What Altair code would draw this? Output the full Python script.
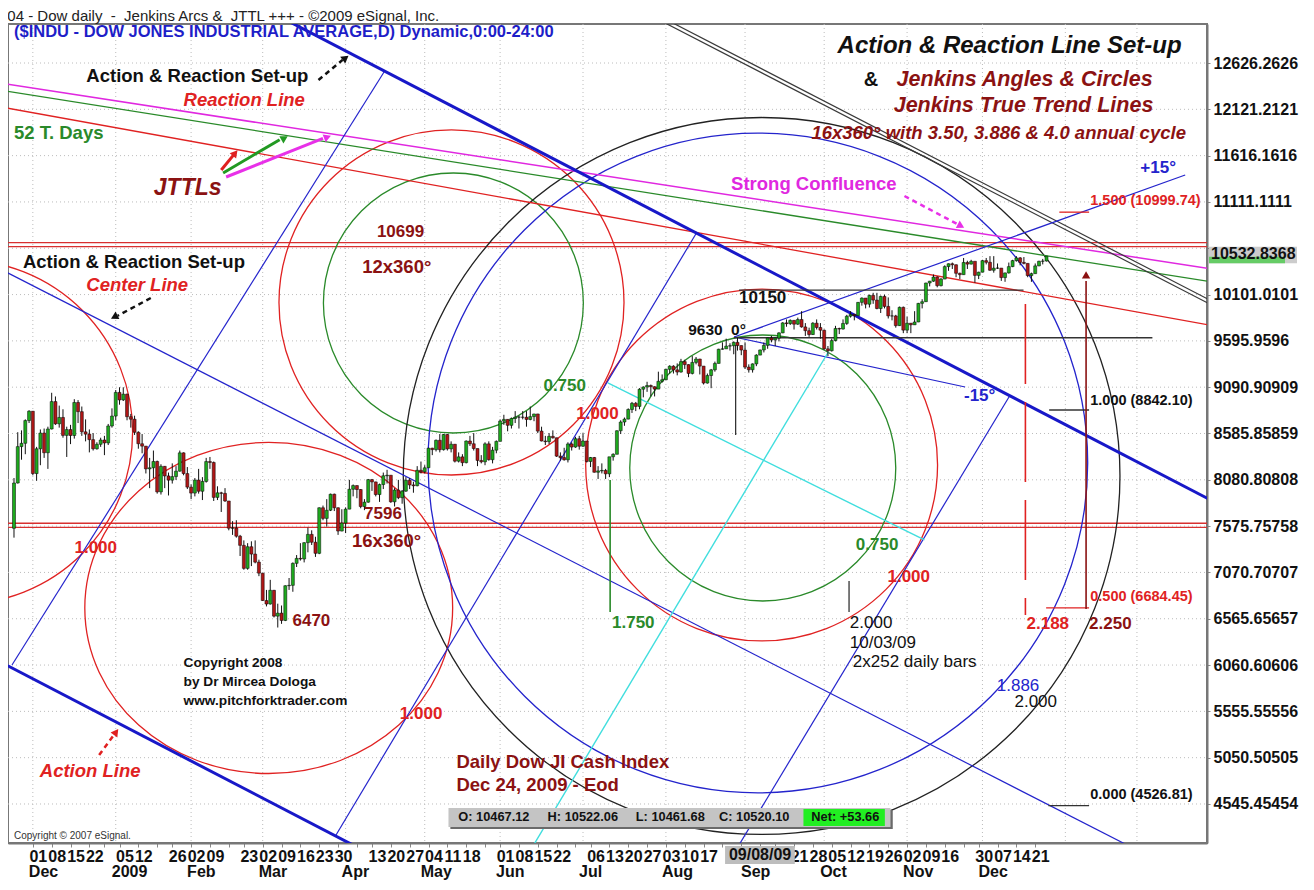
import altair as alt
import pandas as pd

FONT = "Liberation Sans"

# ---------------- price data (Dow Jones daily, Nov 21 2008 .. Dec 24 2009) ----------------
HOLIDAYS = ["2008-11-27", "2008-12-25", "2009-01-01", "2009-01-19", "2009-02-16",
            "2009-04-10", "2009-05-25", "2009-07-03", "2009-09-07", "2009-11-26"]

OPEN = [
    7552, 8046, 8443, 8479, 8727,
    8829, 8149, 8419, 8591, 8376, 8635, 8934, 8691, 8761, 8565, 8629, 8564, 8924, 8824, 8604, 8579, 8519, 8419, 8468, 8515, 8483, 8668,
    8776, 9034, 8952, 9015, 8769, 8742, 8599, 8474, 8448, 8200, 8212, 8281, 7949, 8228, 8123, 8077, 8116, 8175, 8375, 8149,
    8001, 7936, 8078, 7956, 8063, 8280, 8270, 7889, 7939, 7933, 7850, 7553, 7555, 7466, 7366, 7115, 7351, 7271, 7183,
    7063, 6764, 6726, 6876, 6594, 6627, 6547, 6926, 6930, 7170, 7224, 7217, 7395, 7486, 7400, 7279, 7776, 7660, 7749, 7924, 7776, 7522,
    7609, 7761, 7978, 8018, 7975, 7789, 7837, 8083, 8058, 7920, 8029, 8125, 8131, 7841, 7969, 7886, 7957, 8076, 8025, 8016, 8185,
    8168, 8212, 8426, 8410, 8512, 8409, 8575, 8418, 8469, 8284, 8331, 8268, 8504, 8474, 8422, 8292, 8277, 8473, 8300, 8404,
    8500, 8721, 8740, 8675, 8750, 8764, 8764, 8763, 8739, 8770, 8799, 8612, 8504, 8497, 8555, 8539, 8339, 8323, 8299, 8472, 8438, 8529,
    8447, 8504, 8281, 8324, 8163, 8178, 8183, 8146, 8332, 8359, 8616, 8711, 8743, 8848, 8915, 8881, 9069, 9093, 9109, 9096, 9070, 9155,
    9172, 9286, 9320, 9280, 9256, 9370, 9337, 9241, 9361, 9398, 9321, 9136, 9218, 9280, 9350, 9505, 9509, 9539, 9543, 9580, 9545,
    9496, 9310, 9281, 9345, 9441, 9497, 9547, 9627, 9606, 9626, 9683, 9792, 9784, 9820, 9778, 9829, 9748, 9707, 9665, 9789, 9742,
    9712, 9509, 9488, 9599, 9731, 9725, 9786, 9865, 9885, 9871, 10016, 10063, 9996, 10092, 10041, 9949, 10081, 9972, 9868, 9868, 9762, 9962,
    9713, 9789, 9771, 9802, 10005, 10023, 10227, 10247, 10292, 10198, 10270, 10406, 10437, 10426, 10333, 10318, 10451, 10433, 10464, 10310,
    10345, 10471, 10453, 10366, 10389, 10390, 10286, 10337, 10406, 10471, 10501, 10452, 10441, 10308, 10329, 10414, 10464, 10467.12,
]
HIGH = [
    8100, 8600, 8620, 8740, 8840,
    8830, 8440, 8630, 8640, 8660, 9030, 8990, 8890, 8850, 8660, 8680, 8960, 8950, 8880, 8740, 8630, 8590, 8490, 8540, 8560, 8690, 8860,
    9060, 9090, 9090, 9020, 8800, 8780, 8610, 8580, 8450, 8320, 8400, 8290, 8250, 8230, 8160, 8260, 8230, 8400, 8380, 8220,
    8030, 8100, 8200, 8110, 8320, 8330, 8280, 8010, 7950, 7990, 7850, 7630, 7640, 7480, 7420, 7390, 7410, 7420, 7210,
    7063, 6880, 6990, 6880, 6730, 6710, 6930, 7010, 7180, 7260, 7390, 7400, 7560, 7530, 7460, 7780, 7800, 7870, 7930, 7930, 7780, 7760,
    7780, 8080, 8030, 8020, 7980, 7870, 8090, 8090, 8060, 8040, 8160, 8190, 8130, 7990, 8080, 7970, 8110, 8100, 8060, 8230, 8280,
    8240, 8430, 8430, 8520, 8580, 8580, 8580, 8500, 8470, 8380, 8360, 8510, 8560, 8590, 8420, 8350, 8490, 8500, 8440, 8510,
    8740, 8790, 8740, 8760, 8830, 8780, 8830, 8830, 8880, 8800, 8800, 8660, 8560, 8590, 8620, 8540, 8380, 8430, 8490, 8490, 8550, 8560,
    8590, 8500, 8330, 8330, 8230, 8260, 8200, 8330, 8370, 8620, 8730, 8760, 8860, 8930, 8930, 9080, 9100, 9150, 9120, 9100, 9260, 9230,
    9290, 9330, 9330, 9350, 9400, 9390, 9340, 9430, 9420, 9400, 9320, 9240, 9290, 9370, 9510, 9580, 9620, 9570, 9590, 9630, 9545,
    9580, 9340, 9350, 9450, 9500, 9580, 9630, 9650, 9630, 9690, 9800, 9830, 9830, 9820, 9850, 9920, 9790, 9740, 9800, 9830, 9790,
    9720, 9540, 9620, 9760, 9740, 9830, 9880, 9920, 9890, 10020, 10070, 10060, 10100, 10120, 10120, 10090, 10100, 10070, 9930, 9880, 9970, 9970,
    9860, 9790, 9920, 10010, 10050, 10230, 10250, 10320, 10300, 10280, 10420, 10440, 10450, 10430, 10340, 10500, 10470, 10480, 10460, 10350,
    10480, 10500, 10520, 10520, 10440, 10390, 10340, 10450, 10480, 10520, 10510, 10510, 10440, 10340, 10440, 10470, 10490, 10522.06,
]
LOW = [
    7450, 8040, 8300, 8360, 8700,
    8130, 8070, 8240, 8320, 8200, 8630, 8680, 8650, 8540, 8330, 8470, 8530, 8700, 8560, 8500, 8380, 8400, 8410, 8440, 8350, 8460, 8650,
    8730, 8900, 8940, 8730, 8650, 8570, 8420, 8370, 8150, 7990, 8100, 7930, 7920, 7990, 7910, 8040, 8080, 8170, 8130, 7980,
    7870, 7900, 7930, 7860, 8050, 8200, 7850, 7860, 7730, 7840, 7530, 7480, 7450, 7250, 7100, 7100, 7140, 7170, 7030,
    6760, 6700, 6720, 6580, 6470, 6510, 6540, 6880, 6860, 7130, 7200, 7180, 7290, 7370, 7240, 7270, 7640, 7570, 7740, 7740, 7480, 7520,
    7500, 7760, 7900, 7880, 7770, 7750, 7830, 7960, 7900, 7840, 7980, 8040, 7830, 7790, 7870, 7820, 7950, 7980, 7940, 8010, 8150,
    8150, 8210, 8350, 8390, 8380, 8400, 8400, 8380, 8270, 8270, 8230, 8260, 8450, 8400, 8230, 8260, 8240, 8290, 8260, 8370,
    8500, 8680, 8610, 8640, 8700, 8640, 8740, 8660, 8730, 8720, 8590, 8500, 8460, 8470, 8530, 8330, 8290, 8290, 8270, 8400, 8430, 8410,
    8440, 8270, 8220, 8160, 8090, 8150, 8090, 8110, 8290, 8360, 8580, 8670, 8740, 8810, 8830, 8850, 8980, 9040, 8990, 8990, 9070, 9140,
    9170, 9240, 9240, 9220, 9250, 9290, 9200, 9230, 9340, 9230, 9120, 9130, 9080, 9260, 9350, 9500, 9510, 9490, 9450, 9490, 9440,
    9290, 9250, 9250, 9320, 9440, 9470, 9510, 9580, 9540, 9590, 9680, 9750, 9770, 9720, 9770, 9740, 9650, 9640, 9660, 9720, 9620,
    9500, 9430, 9480, 9590, 9670, 9720, 9770, 9850, 9820, 9870, 9980, 9950, 9960, 10000, 9940, 9900, 9950, 9840, 9820, 9740, 9760, 9680,
    9680, 9680, 9770, 9800, 9950, 10020, 10190, 10240, 10180, 10190, 10270, 10360, 10380, 10290, 10270, 10318, 10380, 10430, 10230, 10270,
    10345, 10430, 10360, 10340, 10380, 10250, 10240, 10330, 10400, 10460, 10420, 10430, 10290, 10240, 10330, 10410, 10430, 10461.68,
]
CLOSE = [
    8046, 8443, 8479, 8727, 8829,
    8149, 8419, 8591, 8376, 8635, 8934, 8691, 8761, 8565, 8629, 8564, 8924, 8824, 8604, 8579, 8519, 8419, 8468, 8515, 8483, 8668, 8776,
    9034, 8952, 9015, 8769, 8742, 8599, 8474, 8448, 8200, 8212, 8281, 7949, 8228, 8123, 8077, 8116, 8175, 8375, 8149, 8001,
    7936, 8078, 7956, 8063, 8280, 8270, 7889, 7939, 7933, 7850, 7553, 7555, 7466, 7366, 7115, 7351, 7271, 7183, 7063,
    6764, 6726, 6876, 6594, 6627, 6547, 6926, 6930, 7170, 7224, 7217, 7395, 7486, 7400, 7279, 7776, 7660, 7749, 7924, 7776, 7522, 7609,
    7761, 7978, 8018, 7975, 7789, 7837, 8083, 8058, 7920, 8029, 8125, 8131, 7841, 7969, 7886, 7957, 8076, 8025, 8016, 8185, 8168,
    8212, 8426, 8410, 8512, 8409, 8575, 8418, 8469, 8284, 8331, 8268, 8504, 8474, 8422, 8292, 8277, 8473, 8300, 8404, 8500,
    8721, 8740, 8675, 8750, 8764, 8764, 8763, 8739, 8770, 8799, 8612, 8504, 8497, 8555, 8539, 8339, 8323, 8299, 8472, 8438, 8529, 8447,
    8504, 8281, 8324, 8163, 8178, 8183, 8146, 8332, 8359, 8616, 8711, 8743, 8848, 8915, 8881, 9069, 9093, 9109, 9096, 9070, 9155, 9172,
    9286, 9320, 9280, 9256, 9370, 9337, 9241, 9361, 9398, 9321, 9136, 9218, 9280, 9350, 9505, 9509, 9539, 9543, 9580, 9545, 9496,
    9310, 9281, 9345, 9441, 9497, 9547, 9627, 9606, 9626, 9683, 9792, 9784, 9820, 9778, 9829, 9748, 9707, 9665, 9789, 9742, 9712,
    9509, 9488, 9599, 9731, 9725, 9786, 9865, 9885, 9871, 10016, 10063, 9996, 10092, 10041, 9949, 10081, 9972, 9868, 9868, 9762, 9962, 9713,
    9789, 9771, 9802, 10005, 10023, 10227, 10247, 10292, 10198, 10270, 10406, 10437, 10426, 10333, 10318, 10451, 10433, 10464, 10310, 10345,
    10471, 10453, 10366, 10389, 10390, 10286, 10337, 10406, 10471, 10501, 10452, 10441, 10308, 10329, 10414, 10464, 10466, 10520.10,
]

# ---------------- axis values ----------------
Y_TICKS = [4545.45454, 5050.50505, 5555.55556, 6060.60606, 6565.65657, 7070.70707, 7575.75758,
           8080.80808, 8585.85859, 9090.90909, 9595.9596, 10101.0101, 10606.0606, 11111.1111,
           11616.1616, 12121.2121, 12626.2626]
Y_LABELS = ["4545.45454", "5050.50505", "5555.55556", "6060.60606", "6565.65657", "7070.70707", "7575.75758",
            "8080.80808", "8585.85859", "9090.90909", "9595.9596", "10101.0101", "", "11111.1111",
            "11616.1616", "12121.2121", "12626.2626"]
LAST_PRICE = 10532.8368

DAY_LABEL_DATES = ["2008-12-01", "2008-12-08", "2008-12-15", "2008-12-22", "2009-01-05", "2009-01-12",
                   "2009-01-26", "2009-02-02", "2009-02-09", "2009-02-23", "2009-03-02", "2009-03-09",
                   "2009-03-16", "2009-03-23", "2009-03-30", "2009-04-13", "2009-04-20", "2009-04-27",
                   "2009-05-04", "2009-05-11", "2009-05-18", "2009-06-01", "2009-06-08", "2009-06-15",
                   "2009-06-22", "2009-07-06", "2009-07-13", "2009-07-20", "2009-07-27", "2009-08-03",
                   "2009-08-10", "2009-08-17", "2009-09-21", "2009-09-28", "2009-10-05", "2009-10-12",
                   "2009-10-19", "2009-10-26", "2009-11-02", "2009-11-09", "2009-11-16", "2009-11-30",
                   "2009-12-07", "2009-12-14", "2009-12-21"]
MONTH_NAMES = ["Dec", "2009", "Feb", "Mar", "Apr", "May", "Jun", "Jul", "Aug", "Sep", "Oct", "Nov", "Dec"]
FUTURE_MONTH_BARS = [274, 293]          # Jan 4 2010, Feb 1 2010 (projection area)
CURSOR_DATE = "2009-09-08"

# ---------------- overlays, in (bar index, price) coordinates ----------------
THICK_BLUE = [(66.3, 13114.8, 313.7, 7835.7), (-7.37, 6067.9, 87.4, 4046.1)]
THIN_BLUE = [(-7.37, 10352.6, 295.3, 3995.0), (-5.53, 6061.5, 93.2, 12528.1),
             (80.3, 4196.9, 176.1, 10772.4), (187.4, 4098.6, 259.2, 8995.0),
             (186.1, 9638.3, 305.8, 11405.0), (186.1, 9638.3, 247.4, 9093.1)]
CYAN = [(152.6, 9136.7, 236.6, 7424.6), (132.9, 4098.6, 211.1, 9474.7)]
JTTL_MAGENTA = [(-7.37, 12398.4, 312.4, 10383.1)]
JTTL_GREEN = [(-7.37, 12322.0, 312.4, 10241.4)]
JTTL_RED = [(-7.37, 12138.8, 312.4, 9767.0)]
BLACK_DOUBLE = [(166.3, 13137.7, 312.4, 10039.6), (166.3, 13094.1, 312.4, 9996.0)]
BLACK_LEVELS = [(186.0, 9630, 297.1, 9630), (187.4, 10150, 262.9, 10150),
                (186.5, 9551.1, 186.5, 8569.6), (216.6, 6977.5, 216.6, 6639),
                (269.7, 8842.10, 280.3, 8842.10), (269.5, 4526.81, 280.3, 4526.81)]
RED_LEVELS = [(272.4, 10999.74, 280.3, 10999.74), (268.9, 6684.45, 280.3, 6684.45)]
GREEN_VERT = [(153.2, 8079, 153.2, 6639)]
RED_DASH_VERT = [(263.4, 9998, 263.4, 6607)]
DARKRED_ARROW = [(279.5, 6672, 279.5, 10250)]
RED_BANDS = [10667, 10623, 7607, 7563]

SOLID_ARROWS = [  # x0, p0, x1, p1, angle, colour
    (50.0, 11459.5, 53.4, 11630.0, 39.5, "#e02020"),
    (50.5, 11426.7, 65.5, 11790.0, 60.6, "#229922"),
    (51.3, 11383.1, 77.0, 11805.0, 68.6, "#e830e8"),
]
DASHED_ARROWS = [
    (75.8, 12440.9, 82.2, 12660.0, 52.8, "#111111"),
    (31.3, 10063.6, 22.5, 9870.0, 243.0, "#111111"),
    (17.6, 5080.0, 21.7, 5310.0, 36.5, "#e02020"),
    (231.3, 11176.0, 245.3, 10870.0, 117.8, "#e830e8"),
]
HEAD_POINTS = [(53.7, 11644.9, 39.5, "#e02020"), (66.8, 11808.4, 60.6, "#229922"),
               (78.2, 11819.3, 68.6, "#e830e8"), (83.0, 12680.8, 52.8, "#111111"),
               (21.6, 9856.4, 243.0, "#111111"), (22.1, 5330.8, 36.5, "#e02020"),
               (246.3, 10848.8, 117.8, "#e830e8"), (279.5, 10314.5, 0.0, "#8b1010")]

# circles: centre bar, centre price, radius in bars
GREEN_CIRCLES = [(111.6, 10009.1, 34.2), (193.7, 8209.8, 35.0)]
RED_CIRCLES = [(111.1, 10014.7, 45.4), (193.4, 8242.5, 46.3), (-19.2, 8602.3, 45.3)]
RED_ELLIPSE = [(62.6, 6683.1, 48.4)]
BLUE_CIRCLES = [(192.4, 8264.3, 86.8)]
BLACK_CIRCLES = [(193.4, 8122.5, 94.3)]

# ---------------- layout ----------------
W, H = 1199, 819
XMIN, XMAX = -5.263, 310.263
YMIN, YMAX = 4120.1, 13051.6
PXB = W / (XMAX - XMIN)

xs = alt.Scale(domain=[XMIN, XMAX], nice=False, zero=False)
ys = alt.Scale(domain=[YMIN, YMAX], nice=False, zero=False)

RED = "#e02222"
DARKRED = "#8b1212"
GREEN = "#2a8a2a"
BLUE = "#2424cc"
MAGENTA = "#e028e0"

days = [d for d in pd.bdate_range("2008-11-21", "2009-12-24") if d.strftime("%Y-%m-%d") not in HOLIDAYS]
bars = pd.DataFrame({"date": days, "bar": list(range(-5, -5 + len(days))),
                     "open": OPEN, "high": HIGH, "low": LOW, "close": CLOSE})
bars["dir"] = ["up" if c >= o else "down" for o, c in zip(bars["open"], bars["close"])]
bar_of = {d.strftime("%Y-%m-%d"): b for d, b in zip(bars["date"], bars["bar"])}

wk = bars.assign(w=bars["date"].dt.strftime("%G-%V")).groupby("w")["bar"].min()
WEEK_TICKS = sorted(int(v) for v in wk.values if v >= 0)
day_map = {bar_of[d]: d[-2:] for d in DAY_LABEL_DATES}
x_label_expr = "".join(f"datum.value=={k}?'{v}':" for k, v in day_map.items()) + "''"
y_label_expr = "".join(f"abs(datum.value-{v})<1?'{s}':" for v, s in zip(Y_TICKS, Y_LABELS)) + "''"

mstart = bars[bars["bar"] >= 0].assign(m=bars["date"].dt.strftime("%Y-%m")).groupby("m")["bar"].min()
months = pd.DataFrame({"bar": list(mstart.values), "t": MONTH_NAMES})
grid_v = pd.DataFrame({"bar": list(mstart.values) + FUTURE_MONTH_BARS})

XAXIS = alt.Axis(values=WEEK_TICKS, labelExpr=x_label_expr, title=None, grid=False,
                 labelFont=FONT, labelFontSize=16, labelFontWeight="bold", labelColor="#111",
                 labelPadding=1, labelOffset=5, labelOverlap=False, labelFlush=False, labelBound=False,
                 tickSize=4, tickColor="#888", domainColor="#777", domainWidth=2)
YAXIS = alt.Axis(orient="right", values=Y_TICKS, labelExpr=y_label_expr, title=None, grid=False,
                 labelFont=FONT, labelFontSize=16, labelFontWeight="bold", labelColor="#111",
                 labelPadding=3, labelOverlap=False, labelFlush=False, labelBound=False,
                 tickSize=3, tickColor="#888", domainColor="#777", domainWidth=2)


def X(f="x"):
    return alt.X(f"{f}:Q", scale=xs, axis=XAXIS)


def Y(f="y"):
    return alt.Y(f"{f}:Q", scale=ys, axis=YAXIS)


def segs(rows, color, width, dash=None):
    df = pd.DataFrame(rows, columns=["x", "y", "x2", "y2"])
    kw = dict(color=color, strokeWidth=width, clip=True)
    if dash:
        kw["strokeDash"] = dash
    return alt.Chart(df).mark_rule(**kw).encode(x=X(), y=Y(), x2="x2:Q", y2="y2:Q")


def rings(rows, color, width=1.3, shape="circle"):
    df = pd.DataFrame(rows, columns=["x", "y", "r"])
    df["sz"] = (2 * df["r"] * PXB) ** 2
    return alt.Chart(df).mark_point(shape=shape, filled=False, stroke=color, color=color,
                                    strokeWidth=width, opacity=1, clip=True).encode(
        x=X(), y=Y(), size=alt.Size("sz:Q", scale=None, legend=None))


def texts(rows, color, size, weight="bold", style="normal", align="left", clip=True):
    df = pd.DataFrame(rows, columns=["x", "y", "t"])
    return alt.Chart(df).mark_text(align=align, baseline="middle", color=color, fontSize=size,
                                   fontWeight=weight, fontStyle=style, font=FONT, clip=clip).encode(
        x=X(), y=Y(), text="t:N")


layers = []

# grid
layers.append(alt.Chart(grid_v).mark_rule(color="#bcbcbc", strokeDash=[1, 3], strokeWidth=1).encode(
    x=X("bar"), y=alt.value(0), y2=alt.value(H)))
layers.append(alt.Chart(pd.DataFrame({"y": Y_TICKS})).mark_rule(color="#bcbcbc", strokeDash=[1, 3],
                                                                  strokeWidth=1).encode(
    y=Y(), x=alt.value(0), x2=alt.value(W)))
# red horizontal bands
layers.append(alt.Chart(pd.DataFrame({"y": RED_BANDS})).mark_rule(color="#d83030", strokeWidth=1.3).encode(
    y=Y(), x=alt.value(0), x2=alt.value(W)))

# circles
layers.append(rings(GREEN_CIRCLES, GREEN))
layers.append(rings(RED_CIRCLES, RED))
layers.append(rings(RED_ELLIPSE, RED, shape="M-1,0A1,0.9,0,1,0,1,0A1,0.9,0,1,0,-1,0Z"))
layers.append(rings(BLUE_CIRCLES, BLUE))
layers.append(rings(BLACK_CIRCLES, "#222222"))

# lines
layers.append(segs(JTTL_RED, RED, 1.3))
layers.append(segs(JTTL_GREEN, GREEN, 1.3))
layers.append(segs(JTTL_MAGENTA, MAGENTA, 1.5))
layers.append(segs(BLACK_DOUBLE, "#3a3a3a", 1.2))
layers.append(segs(THIN_BLUE, BLUE, 1.2))
layers.append(segs(THICK_BLUE, "#1818c8", 3))
layers.append(segs(CYAN, "#40dede", 1.4))
layers.append(segs(BLACK_LEVELS, "#333333", 1.3))
layers.append(segs(RED_LEVELS, RED, 1.3))
layers.append(segs(GREEN_VERT, GREEN, 1.6))
layers.append(segs(RED_DASH_VERT, RED, 1.6, dash=[80, 18]))
layers.append(segs(DARKRED_ARROW, DARKRED, 1.6))

# arrows
for x0, p0, x1, p1, ang, col in SOLID_ARROWS:
    layers.append(segs([(x0, p0, x1, p1)], col, 3))
for x0, p0, x1, p1, ang, col in DASHED_ARROWS:
    layers.append(segs([(x0, p0, x1, p1)], col, 2.5, dash=[5, 4]))
heads = pd.DataFrame(HEAD_POINTS, columns=["x", "y", "ang", "col"])
layers.append(alt.Chart(heads).mark_point(shape="triangle-up", filled=True, size=70, opacity=1, clip=True).encode(
    x=X(), y=Y(), angle=alt.Angle("ang:Q", scale=None), color=alt.Color("col:N", scale=None, legend=None)))

# candles
layers.append(alt.Chart(bars).mark_rule(color="#111", strokeWidth=1, clip=True).encode(
    x=X("bar"), y=Y("low"), y2="high:Q"))
layers.append(alt.Chart(bars).mark_bar(size=3, stroke="#000", strokeWidth=0.5, clip=True).encode(
    x=X("bar"), y=Y("open"), y2="close:Q",
    color=alt.Color("dir:N", scale=alt.Scale(domain=["up", "down"], range=["#1eaa1e", "#b01616"]), legend=None)))

# text annotations
layers.append(texts([(-5.0, 12964.3, "($INDU - DOW JONES INDUSTRIAL AVERAGE,D) Dynamic,0:00-24:00")], "#1e1ec8", 16.5))
layers.append(texts([(259.2, 12811.7, "Action & Reaction Line Set-up")], "#111", 24, style="italic", align="center"))
layers.append(texts([(220.5, 12440.9, "&")], "#111", 20))
layers.append(texts([(263.2, 12440.9, "Jenkins Angles & Circles"),
                     (262.9, 12156.9, "Jenkins True Trend Lines")], DARKRED, 21.5, style="italic", align="center"))
layers.append(texts([(256.3, 11862.9, "16x360° with 3.50, 3.886 & 4.0 annual cycle")], DARKRED, 18.5,
                    style="italic", align="center"))
layers.append(texts([(14.2, 12484.5, "Action & Reaction Set-up"), (-2.63, 10456.2, "Action & Reaction Set-up")],
                    "#111", 18.5))
layers.append(texts([(40.0, 12222.8, "Reaction Line"), (14.2, 10205.4, "Center Line"), (1.84, 4905.5, "Action Line")],
                    RED, 18.5, style="italic"))
layers.append(texts([(-5.0, 11862.9, "52 T. Days")], GREEN, 18.5))
layers.append(texts([(32.1, 11263.2, "JTTLs")], DARKRED, 23, style="italic"))
layers.append(texts([(185.3, 11306.8, "Strong Confluence")], MAGENTA, 18.5))
layers.append(texts([(40.0, 6083.5, "Copyright 2008"), (40.0, 5876.3, "by Dr Mircea Dologa"),
                     (40.0, 5668.9, "www.pitchforktrader.com")], "#111", 13.7))
layers.append(texts([(-5.0, 4196.9, "Copyright © 2007 eSignal.")], "#333", 10, weight="normal"))
layers.append(texts([(112.4, 5002.1, "Daily Dow JI Cash Index"), (112.4, 4752.9, "Dec 24, 2009 - Eod")], DARKRED, 18.5))
layers.append(texts([(91.3, 10783.3, "10699"), (87.9, 7708.2, "7596"), (68.9, 6541.5, "6470")], DARKRED, 17))
layers.append(texts([(87.4, 10401.8, "12x360°"), (84.7, 7413.8, "16x360°")], DARKRED, 18.5))
layers.append(texts([(11.05, 7337.6, "1.000"), (97.4, 5527.5, "1.000"), (144.2, 8798.7, "1.000"),
                     (226.8, 7021.3, "1.000"), (263.7, 6508.8, "2.188")], RED, 17))
layers.append(texts([(280.3, 6508.8, "2.250")], DARKRED, 17))
layers.append(texts([(135.5, 9104.0, "0.750"), (218.4, 7370.1, "0.750"), (153.7, 6519.7, "1.750")], GREEN, 17))
layers.append(texts([(173.9, 9714.7, "9630"), (185.3, 9714.7, "0°")], "#111", 15.5))
layers.append(texts([(187.4, 10063.6, "10150")], "#111", 17))
layers.append(texts([(216.8, 6519.7, "2.000"), (216.8, 6301.6, "10/03/09"), (217.6, 6094.4, "2x252 daily bars"),
                     (260.5, 5658.0, "2.000")], "#111", 17, weight="normal"))
layers.append(texts([(247.1, 8995.0, "-15°"), (293.9, 11481.3, "+15°")], BLUE, 17))
layers.append(texts([(255.8, 5832.7, "1.886")], BLUE, 17, weight="normal"))
layers.append(texts([(280.6, 11121.5, "1.500 (10999.74)"), (280.6, 6803.2, "0.500 (6684.45)")], RED, 14.5))
layers.append(texts([(280.6, 8940.4, "1.000 (8842.10)"), (280.6, 4643.9, "0.000 (4526.81)")], "#111", 14.5))

# OHLC status box
boxes = pd.DataFrame([(110.8, 4480.1, 228.2, 4273.0, "#6a6a6a"), (110.3, 4502.0, 227.6, 4294.8, "#c4c4c4"),
                      (204.5, 4491.0, 226.1, 4306.0, "#22ee22")], columns=["x", "y", "x2", "y2", "col"])
layers.append(alt.Chart(boxes).mark_rect(clip=True).encode(
    x=X(), y=Y(), x2="x2:Q", y2="y2:Q", color=alt.Color("col:N", scale=None, legend=None)))
layers.append(texts([(112.9, 4404.0, "O: 10467.12"), (136.6, 4404.0, "H: 10522.06"), (160.0, 4404.0, "L: 10461.68"),
                     (182.1, 4404.0, "C: 10520.10"), (206.6, 4404.0, "Net: +53.66")], "#111", 12.8))

# x-axis extras: month names and cursor date box
layers.append(alt.Chart(months).mark_text(align="left", baseline="middle", dx=-4, font=FONT, fontSize=16,
                                          fontWeight="bold", color="#111").encode(
    x=X("bar"), y=alt.value(H + 29), text="t:N"))
cur = bar_of[CURSOR_DATE]
cursor = pd.DataFrame({"x": [cur - 9.3], "x2": [cur + 9.2], "xc": [cur], "t": ["09/08/09"]})
layers.append(alt.Chart(cursor).mark_rect(color="#bdbdbd").encode(
    x=X(), x2="x2:Q", y=alt.value(H + 3), y2=alt.value(H + 21)))
layers.append(alt.Chart(cursor).mark_text(align="center", baseline="middle", font=FONT, fontSize=16,
                                          fontWeight="bold", color="#111").encode(
    x=X("xc"), y=alt.value(H + 12), text="t:N"))

# last price marker on the price axis
lp = pd.DataFrame({"y": [LAST_PRICE + 90], "y2": [LAST_PRICE - 90], "ym": [LAST_PRICE + 10],
                   "yg": [LAST_PRICE - 20], "yg2": [LAST_PRICE - 90], "t": [f"{LAST_PRICE:.4f}"]})
layers.append(alt.Chart(lp).mark_rect(color="#cccccc").encode(
    x=alt.value(W + 2), x2=alt.value(W + 90), y=Y(), y2="y2:Q"))
layers.append(alt.Chart(lp).mark_rect(color="#66cc66").encode(
    x=alt.value(W + 2), x2=alt.value(W + 78), y=Y("yg"), y2="yg2:Q"))
layers.append(alt.Chart(lp).mark_text(align="left", baseline="middle", font=FONT, fontSize=16,
                                      fontWeight="bold", color="#111").encode(
    x=alt.value(W + 4), y=Y("ym"), text="t:N"))

TITLE = "04 - Dow daily\u00a0 -\u00a0 Jenkins Arcs &\u00a0 JTTL +++ - ©2009 eSignal, Inc."

chart = alt.layer(*layers).properties(
    width=W, height=H,
    title=alt.TitleParams(TITLE, anchor="start", font=FONT, fontSize=15, fontWeight="normal",
                          color="#222", offset=0),
    padding={"left": 0, "top": 16, "right": 92, "bottom": 39},
    autosize=alt.AutoSizeParams(type="none"),
).configure_view(stroke="#777", strokeWidth=2)

chart.save("out.html", embed_options={"renderer": "svg", "actions": False})
